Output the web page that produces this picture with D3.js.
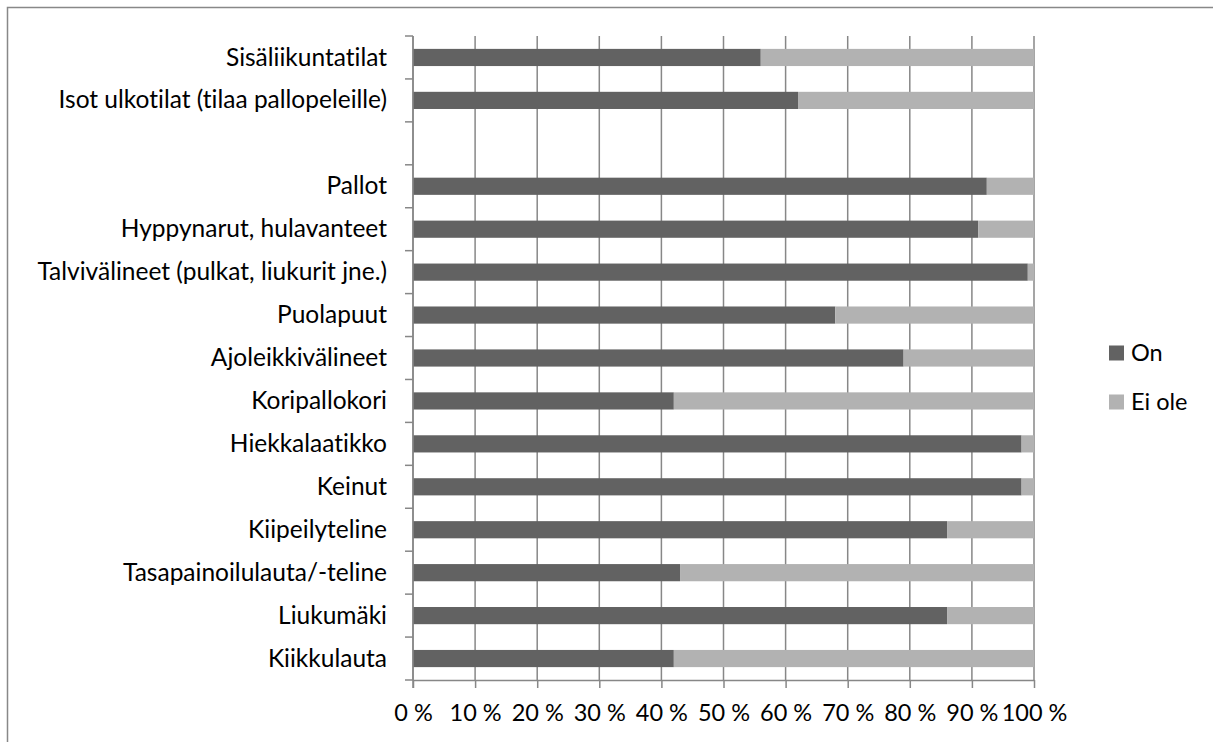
<!DOCTYPE html>
<html>
<head>
<meta charset="utf-8">
<script src="https://cdn.jsdelivr.net/npm/d3@7"></script>
<style>
  body { margin: 0; background: #fff; }
  svg { display: block; font-family: Lato, "Open Sans", sans-serif; font-variant-ligatures: none; }
</style>
</head>
<body>
<div class="barChart"></div>
<script>
// categories, top to bottom (blank row between the two groups)
let categories = [
  'Sisäliikuntatilat',
  'Isot ulkotilat (tilaa pallopeleille)',
  ' ',
  'Pallot',
  'Hyppynarut, hulavanteet',
  'Talvivälineet (pulkat, liukurit jne.)',
  'Puolapuut',
  'Ajoleikkivälineet',
  'Koripallokori',
  'Hiekkalaatikko',
  'Keinut',
  'Kiipeilyteline',
  'Tasapainoilulauta/-teline',
  'Liukumäki',
  'Kiikkulauta'
];

// percent "On" per category (null = blank row)
let onValues = [56, 62, null, 92.4, 91, 99, 68, 79, 42, 98, 98, 86, 43, 86, 42];
// percent "Ei ole" per category
let eiOleValues = [44, 38, null, 7.6, 9, 1, 32, 21, 58, 2, 2, 14, 57, 14, 58];

let seriesNames = ['On', 'Ei ole'];
let seriesColors = ['#626262', '#b2b2b2'];
let xTicks = [0, 10, 20, 30, 40, 50, 60, 70, 80, 90, 100];

function drawBarChart(d3) {
  let width = 1213;
  let height = 742;
  let plot = { left: 413, right: 1034, top: 36, bottom: 680 };

  let svg = d3.select('.barChart')
    .append('svg')
    .attr('width', width)
    .attr('height', height);

  // outer chart frame
  svg.append('rect')
    .attr('x', 7.5).attr('y', 7.5)
    .attr('width', width + 20).attr('height', height + 20)
    .attr('fill', 'none')
    .attr('stroke', '#888')
    .attr('stroke-width', 1.5);

  let xScale = d3.scaleLinear()
    .domain([0, 100])
    .range([plot.left, plot.right]);

  let yScale = d3.scaleBand()
    .domain(categories)
    .range([plot.top, plot.bottom])
    .paddingInner(0.6)
    .paddingOuter(0.3);

  let rows = categories.map(function(c, i) {
    return { cat: c, on: onValues[i], ei: eiOleValues[i] };
  }).filter(function(d) { return d.on !== null; });

  // vertical gridlines
  svg.append('g')
    .selectAll('line')
    .data(xTicks)
    .enter().append('line')
    .attr('x1', function(d) { return xScale(d); })
    .attr('x2', function(d) { return xScale(d); })
    .attr('y1', plot.top)
    .attr('y2', plot.bottom)
    .attr('stroke', '#878787')
    .attr('stroke-width', 1.5);

  // stacked bars
  let g = svg.append('g');
  g.selectAll('.bar-on')
    .data(rows)
    .enter().append('rect')
    .attr('class', 'bar-on')
    .attr('x', xScale(0))
    .attr('y', function(d) { return yScale(d.cat); })
    .attr('width', function(d) { return xScale(d.on) - xScale(0); })
    .attr('height', yScale.bandwidth())
    .attr('fill', seriesColors[0]);

  g.selectAll('.bar-ei')
    .data(rows)
    .enter().append('rect')
    .attr('class', 'bar-ei')
    .attr('x', function(d) { return xScale(d.on); })
    .attr('y', function(d) { return yScale(d.cat); })
    .attr('width', function(d) { return xScale(d.on + d.ei) - xScale(d.on); })
    .attr('height', yScale.bandwidth())
    .attr('fill', seriesColors[1]);

  // x axis
  let xAxis = svg.append('g')
    .attr('transform', 'translate(0,' + plot.bottom + ')')
    .call(d3.axisBottom(xScale)
      .tickValues(xTicks)
      .tickSize(8)
      .tickSizeOuter(0)
      .tickPadding(16)
      .tickFormat(function(d) { return d + ' %'; }));
  xAxis.select('.domain').attr('stroke', '#878787').attr('stroke-width', 1.5);
  xAxis.selectAll('.tick line').attr('stroke', '#878787').attr('stroke-width', 1.5);
  xAxis.selectAll('.tick text')
    .attr('fill', '#000')
    .style('font-size', '23.5px')
    .style('font-family', 'Lato, sans-serif');

  // y axis: line plus ticks at band boundaries
  let step = yScale.step();
  let boundaries = categories.map(function(c) {
    return yScale(c) - step * yScale.paddingInner() / 2;
  });
  boundaries.push(plot.bottom);

  let yAxis = svg.append('g');
  yAxis.append('line')
    .attr('x1', plot.left).attr('x2', plot.left)
    .attr('y1', plot.top).attr('y2', plot.bottom + 8)
    .attr('stroke', '#878787').attr('stroke-width', 1.5);
  yAxis.selectAll('.ytick')
    .data(boundaries)
    .enter().append('line')
    .attr('class', 'ytick')
    .attr('x1', plot.left - 8).attr('x2', plot.left)
    .attr('y1', function(d) { return d; })
    .attr('y2', function(d) { return d; })
    .attr('stroke', '#878787').attr('stroke-width', 1.5);

  yAxis.selectAll('.ylabel')
    .data(categories)
    .enter().append('text')
    .attr('class', 'ylabel')
    .attr('x', plot.left - 26)
    .attr('y', function(d) { return yScale(d) + yScale.bandwidth() / 2; })
    .attr('dy', '0.33em')
    .attr('text-anchor', 'end')
    .style('font-size', '24.5px')
    .text(function(d) { return d; });

  // legend
  let legend = svg.append('g')
    .selectAll('g')
    .data(seriesNames)
    .enter().append('g')
    .attr('transform', function(d, i) {
      return 'translate(1109,' + (345.5 + i * 49) + ')';
    });
  legend.append('rect')
    .attr('width', 15).attr('height', 15)
    .attr('fill', function(d, i) { return seriesColors[i]; });
  legend.append('text')
    .attr('x', 22)
    .attr('y', 7.5)
    .attr('dy', '0.35em')
    .style('font-size', '23.5px')
    .text(function(d) { return d; });
}

drawBarChart(d3);
</script>
</body>
</html>
